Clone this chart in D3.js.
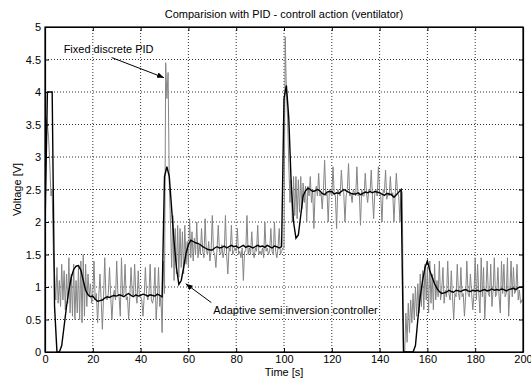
<!DOCTYPE html>
<html>
<head>
<meta charset="utf-8">
<script src="https://cdn.jsdelivr.net/npm/d3@7"></script>
<style>
  body { margin: 0; background: #fff; }
  svg { display: block; font-family: "Liberation Sans", Arial, sans-serif; }
</style>
</head>
<body>
<div id="chart"></div>
<script>
// Fixed discrete PID, sampled every 0.5 s (t = 0 .. 200)
const pidStep = 0.5;
const pidValues = [
  3.2, 3.6, 3.5, 3.3, 2.9, 2.4, 2.5, 1.5, 1.2, 0.8,
  1.3, 0.75, 1.1, 0.7, 1.35, 0.8, 1.25, 0.65, 1.2, 0.75,
  1.45, 0.6, 1.2, 0.55, 1.35, 0.5, 1.1, 0.6, 1.3, 0.5,
  1.4, 0.45, 1.5, 0.55, 1.35, 0.7, 1.2, 0.85, 1.05, 0.75,
  0.9, 1.4, 0.8, 0.9, 0.45, 0.85, 1.2, 0.8, 0.35, 0.85,
  1.45, 0.85, 0.8, 0.9, 1.3, 0.85, 0.5, 0.85, 0.95, 0.8,
  1.4, 0.9, 0.85, 0.55, 1.45, 0.85, 0.9, 1.35, 0.8, 0.85,
  0.5, 0.85, 1.3, 0.9, 0.85, 1.35, 0.9, 0.75, 1.25, 0.85,
  0.85, 0.8, 0.55, 0.85, 1.3, 0.9, 0.8, 0.9, 1.35, 0.8,
  0.75, 0.85, 1.3, 0.5, 0.8, 1.3, 0.7, 0.85, 0.3, 1.4,
  0.9, 4.45, 3.9, 4.3, 2.6, 2.0, 1.3, 2.1, 1.1, 1.9,
  1.2, 1.95, 1.15, 1.9, 1.3, 1.85, 1.2, 1.95, 1.35, 1.7,
  1.3, 2.05, 1.45, 1.85, 1.4, 1.75, 1.5, 2.0, 1.45, 1.65,
  1.5, 1.9, 1.55, 1.45, 2.05, 1.55, 1.5, 1.7, 1.4, 1.55,
  2.1, 1.55, 1.5, 1.3, 1.6, 1.95, 1.55, 1.5, 1.65, 1.45,
  1.55, 2.1, 1.5, 1.2, 1.6, 1.55, 1.95, 1.5, 1.55, 1.6,
  1.55, 1.9, 1.5, 1.55, 1.45, 1.6, 1.1, 1.55, 1.55, 2.1,
  1.5, 1.6, 1.5, 1.85, 1.55, 1.45, 1.6, 1.55, 1.95, 1.5,
  1.55, 1.5, 1.6, 1.45, 2.0, 1.55, 1.6, 1.5, 1.55, 1.9,
  1.55, 1.5, 2.0, 1.55, 1.45, 1.6, 1.9, 1.5, 1.55, 1.6,
  1.6, 4.85, 4.0, 3.6, 2.9, 2.3, 2.65, 2.0, 2.7, 2.1,
  2.7, 2.05, 2.65, 2.15, 2.7, 2.2, 2.6, 2.3, 2.55, 2.0,
  2.55, 2.4, 2.7, 2.3, 2.5, 1.9, 2.45, 2.55, 2.4, 2.75,
  2.4, 2.45, 2.2, 2.5, 2.95, 2.4, 2.45, 2.0, 2.5, 2.45,
  2.4, 2.85, 2.45, 2.4, 1.9, 2.5, 2.45, 2.4, 2.8, 2.5,
  2.45, 2.0, 2.4, 2.5, 2.9, 2.4, 2.45, 2.3, 2.5, 2.45,
  2.4, 2.85, 2.4, 2.45, 1.95, 2.5, 2.4, 2.4, 2.75, 2.45,
  2.3, 2.5, 2.45, 2.8, 2.4, 2.05, 2.45, 2.5, 2.4, 2.85,
  2.45, 2.4, 2.0, 2.5, 2.45, 2.8, 2.35, 2.45, 2.4, 2.7,
  2.4, 2.45, 2.0, 2.4, 2.75, 2.45, 2.4, 2.0, 2.5, 2.45,
  0.0, 0.0, 0.6, 0.15, 0.75, 0.3, 0.8, 0.45, 0.9, 0.5,
  1.0, 0.55, 1.05, 0.6, 1.2, 0.7, 1.25, 0.65, 1.35, 0.8,
  1.3, 0.6, 1.4, 0.75, 1.2, 0.65, 1.35, 0.8, 1.1, 0.85,
  1.4, 0.8, 0.95, 1.3, 0.75, 0.95, 0.85, 1.4, 0.9, 0.8,
  1.25, 0.85, 0.5, 0.9, 0.85, 1.35, 0.9, 0.8, 1.3, 0.85,
  0.9, 0.55, 0.85, 1.4, 0.9, 0.85, 1.2, 0.9, 0.65, 0.9,
  1.45, 0.8, 1.35, 0.9, 0.6, 1.45, 0.85, 1.3, 0.5, 0.95,
  1.4, 0.9, 0.85, 1.35, 0.7, 0.95, 1.45, 0.85, 0.9, 1.3,
  0.85, 0.6, 1.4, 0.9, 1.35, 0.85, 0.9, 1.45, 0.55, 0.95,
  1.4, 0.85, 1.3, 0.9, 0.95, 1.35, 0.8, 0.95, 0.75, 0.8,
  0.8
];

// Adaptive semi inversion controller, sampled every 1 s (t = 0 .. 200)
const adaptiveStep = 1;
const adaptiveValues = [
  1.9, 4.0, 4.0, 4.0, 0.7, 0.0, 0.0, 0.1, 0.4, 0.7,
  0.95, 1.15, 1.27, 1.32, 1.33, 1.26, 1.1, 0.95, 0.88, 0.85,
  0.86, 0.81, 0.78, 0.79, 0.8, 0.83, 0.85, 0.84, 0.86, 0.87,
  0.86, 0.88, 0.87, 0.85, 0.88, 0.9, 0.87, 0.85, 0.88, 0.86,
  0.87, 0.89, 0.88, 0.86, 0.88, 0.87, 0.86, 0.89, 0.87, 0.85,
  2.7, 2.85, 2.7, 2.2, 1.7, 1.3, 1.04, 1.1, 1.3, 1.52,
  1.65, 1.72, 1.7, 1.68, 1.67, 1.65, 1.62, 1.6, 1.58, 1.57,
  1.57, 1.6, 1.62, 1.6, 1.61, 1.63, 1.6, 1.62, 1.64, 1.62,
  1.63, 1.6, 1.62, 1.64, 1.61, 1.63, 1.62, 1.6, 1.62, 1.64,
  1.62, 1.63, 1.61, 1.64, 1.62, 1.6, 1.63, 1.62, 1.6, 1.62,
  3.9, 4.1, 3.6, 2.6, 2.0, 1.75, 1.8, 2.1, 2.4, 2.48,
  2.52, 2.5, 2.47, 2.48, 2.5, 2.48, 2.44, 2.42, 2.46, 2.47,
  2.47, 2.43, 2.45, 2.44, 2.47, 2.5, 2.48, 2.46, 2.44, 2.43,
  2.43, 2.45, 2.42, 2.44, 2.46, 2.45, 2.47, 2.45, 2.47, 2.46,
  2.45, 2.43, 2.41, 2.44, 2.43, 2.42, 2.38, 2.42, 2.46, 2.5,
  0.0, 0.0, 0.0, 0.0, 0.0, 0.1, 0.5, 0.85, 1.1, 1.3,
  1.4, 1.25, 1.15, 1.05, 0.98, 0.93, 0.9, 0.91, 0.92, 0.95,
  0.93, 0.92, 0.95, 0.94, 0.93, 0.95, 0.96, 0.94, 0.93, 0.95,
  0.94, 0.95, 0.93, 0.95, 0.96, 0.94, 0.95, 0.97, 0.95, 0.96,
  0.95, 0.97, 0.96, 0.94, 0.96, 0.97, 0.98, 0.96, 0.99, 1.0,
  1.0
];

const xTicks = [0, 20, 40, 60, 80, 100, 120, 140, 160, 180, 200];
const yTicks = [0, 0.5, 1, 1.5, 2, 2.5, 3, 3.5, 4, 4.5, 5];

// annotation anchors in data units: [t, v]
const pidLabel = { text: "Fixed discrete PID", at: [7.8, 4.6], from: [27.9, 4.53], to: [49.8, 4.22] };
const adaptiveLabel = { text: "Adaptive semi inversion controller", at: [70.4, 0.59], from: [69.6, 0.76], to: [58.9, 1.05] };

const W = 531, H = 379;
const margin = { top: 27, right: 8, bottom: 27, left: 45 };
const width = W - margin.left - margin.right;
const height = H - margin.top - margin.bottom;

const svg = d3.select("#chart").append("svg")
  .attr("width", W)
  .attr("height", H);

const g = svg.append("g")
  .attr("transform", "translate(" + margin.left + "," + margin.top + ")");

const x = d3.scaleLinear().domain([0, 200]).range([0, width]);
const y = d3.scaleLinear().domain([0, 5]).range([height, 0]);

// grid
g.append("g").selectAll("line")
  .data(xTicks.slice(1, -1))
  .enter().append("line")
  .attr("x1", d => x(d)).attr("x2", d => x(d))
  .attr("y1", 0).attr("y2", height)
  .attr("stroke", "#000").attr("stroke-width", 0.8)
  .attr("stroke-dasharray", "1,2");
g.append("g").selectAll("line")
  .data(yTicks.slice(1, -1))
  .enter().append("line")
  .attr("x1", 0).attr("x2", width)
  .attr("y1", d => y(d)).attr("y2", d => y(d))
  .attr("stroke", "#000").attr("stroke-width", 0.8)
  .attr("stroke-dasharray", "1,2");

// clip to axes box
g.append("clipPath").attr("id", "clip")
  .append("rect").attr("width", width).attr("height", height);

const line = d3.line()
  .x(d => x(d[0]))
  .y(d => y(d[1]));

const pidData = pidValues.map((v, i) => [i * pidStep, v]);
const adaptiveData = adaptiveValues.map((v, i) => [i * adaptiveStep, v]);

g.append("path")
  .datum(pidData)
  .attr("clip-path", "url(#clip)")
  .attr("fill", "none")
  .attr("stroke", "#858585")
  .attr("stroke-width", 1)
  .attr("d", line);

g.append("path")
  .datum(adaptiveData)
  .attr("clip-path", "url(#clip)")
  .attr("fill", "none")
  .attr("stroke", "#000")
  .attr("stroke-width", 1.4)
  .attr("d", line);

// axes (MATLAB style: ticks inside, full box)
g.append("g")
  .attr("transform", "translate(0," + height + ")")
  .call(d3.axisBottom(x).tickValues(xTicks).tickSizeInner(-4).tickSizeOuter(0).tickPadding(3));
g.append("g")
  .call(d3.axisLeft(y).tickValues(yTicks).tickFormat(d3.format("")).tickSizeInner(-4).tickSizeOuter(0).tickPadding(4));
g.append("g")
  .attr("transform", "translate(" + width + ",0)")
  .call(d3.axisRight(y).tickValues(yTicks).tickSizeInner(-4).tickSizeOuter(0).tickFormat(""));
g.append("g")
  .call(d3.axisTop(x).tickValues(xTicks).tickSizeInner(-4).tickSizeOuter(0).tickFormat(""));

g.selectAll(".domain").attr("stroke", "#000").attr("stroke-width", 1.2);
g.selectAll(".tick text").attr("font-size", 11).attr("fill", "#000")
  .attr("font-family", "'Liberation Sans', Arial, sans-serif");

g.append("rect")
  .attr("width", width).attr("height", height)
  .attr("fill", "none").attr("stroke", "#000").attr("stroke-width", 1.2);

// labels
svg.append("text")
  .attr("x", margin.left + width / 2).attr("y", 18)
  .attr("text-anchor", "middle").attr("font-size", 11)
  .text("Comparision with PID - controll action (ventilator)");

svg.append("text")
  .attr("x", margin.left + width / 2).attr("y", 376)
  .attr("text-anchor", "middle").attr("font-size", 11)
  .text("Time [s]");

svg.append("text")
  .attr("transform", "translate(21," + (margin.top + height / 2) + ") rotate(-90)")
  .attr("text-anchor", "middle").attr("font-size", 11)
  .text("Voltage [V]");

// annotation arrows
svg.append("defs").append("marker")
  .attr("id", "arrow")
  .attr("viewBox", "0 0 10 10")
  .attr("refX", 10).attr("refY", 5)
  .attr("markerWidth", 7).attr("markerHeight", 7)
  .attr("markerUnits", "userSpaceOnUse")
  .attr("orient", "auto")
  .append("path").attr("d", "M0,1 L10,5 L0,9 z").attr("fill", "#000");

[pidLabel, adaptiveLabel].forEach(a => {
  g.append("line")
    .attr("x1", x(a.from[0])).attr("y1", y(a.from[1]))
    .attr("x2", x(a.to[0])).attr("y2", y(a.to[1]))
    .attr("stroke", "#000").attr("stroke-width", 1)
    .attr("marker-end", "url(#arrow)");
  g.append("text")
    .attr("x", x(a.at[0])).attr("y", y(a.at[1]))
    .attr("font-size", 11)
    .text(a.text);
});
</script>
</body>
</html>
